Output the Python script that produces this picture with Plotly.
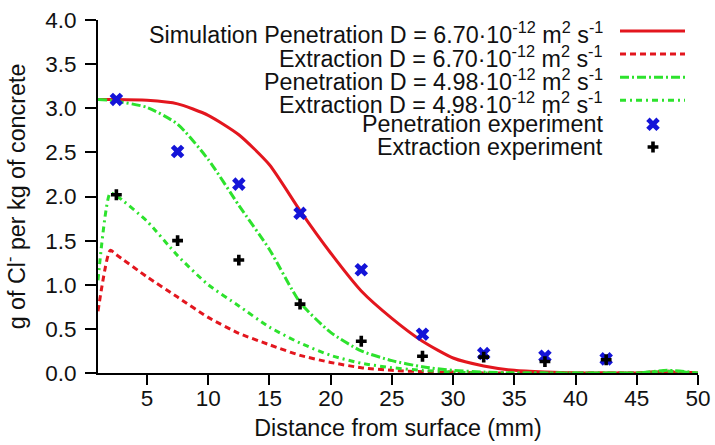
import plotly.graph_objects as go

# ---- data ----
x_sim = [1, 2, 2.5, 5, 7.5, 10, 12.5, 15, 17.5, 20, 22.5, 25, 27.5, 30, 32.5, 35, 37.5, 40, 42.5, 45, 47.5, 50]
pen_670 = [3.10, 3.10, 3.10, 3.09, 3.05, 2.92, 2.70, 2.36, 1.84, 1.36, 0.93, 0.62, 0.36, 0.17, 0.08, 0.03, 0.01, 0.0, 0.0, 0.0, 0.01, 0.0]
ext_670 = [0.70, 1.39, 1.34, 1.09, 0.86, 0.63, 0.45, 0.32, 0.20, 0.12, 0.06, 0.03, 0.015, 0.01, 0.0, 0.0, 0.0, 0.0, 0.0, 0.0, 0.02, 0.0]
pen_498 = [3.10, 3.09, 3.08, 3.01, 2.82, 2.42, 1.90, 1.40, 0.80, 0.46, 0.25, 0.14, 0.07, 0.03, 0.01, 0.0, 0.0, 0.0, 0.0, 0.0, 0.03, 0.0]
ext_498 = [1.05, 2.04, 2.01, 1.72, 1.33, 1.00, 0.76, 0.52, 0.34, 0.20, 0.11, 0.06, 0.03, 0.01, 0.0, 0.0, 0.0, 0.0, 0.0, 0.0, 0.02, 0.0]

x_exp = [2.5, 7.5, 12.5, 17.5, 22.5, 27.5, 32.5, 37.5, 42.5]
pen_exp = [3.10, 2.51, 2.14, 1.81, 1.17, 0.44, 0.22, 0.19, 0.16]
ext_exp = [2.02, 1.50, 1.28, 0.78, 0.36, 0.19, 0.18, 0.13, 0.15]

x_ticks = [5, 10, 15, 20, 25, 30, 35, 40, 45, 50]
y_ticks = [0.0, 0.5, 1.0, 1.5, 2.0, 2.5, 3.0, 3.5, 4.0]

legend_labels = [
    "Simulation Penetration D = 6.70·10<sup>-12</sup> m<sup>2</sup> s<sup>-1</sup>",
    "Extraction D = 6.70·10<sup>-12</sup> m<sup>2</sup> s<sup>-1</sup>",
    "Penetration D = 4.98·10<sup>-12</sup> m<sup>2</sup> s<sup>-1</sup>",
    "Extraction D = 4.98·10<sup>-12</sup> m<sup>2</sup> s<sup>-1</sup>",
    "Penetration experiment",
    "Extraction experiment",
]

RED = "#e3161e"
GREEN = "#2de22d"
BLUE = "#1414d8"
FONT = "Liberation Sans, Arial, sans-serif"
FS = 23.3
TFS = 22.5

W, H = 715, 445
ml, mr, mt, mb = 98, 17, 20, 72
pw, ph = W - ml - mr, H - mt - mb

styles = [
    dict(color=RED, width=3, dash="solid"),
    dict(color=RED, width=3, dash="6px,4px"),
    dict(color=GREEN, width=3, dash="9px,3px,2px,3px"),
    dict(color=GREEN, width=3, dash="6px,4px,2px,4px"),
]

fig = go.Figure()
for ys, st in zip([pen_670, ext_670, pen_498, ext_498], styles):
    fig.add_trace(go.Scatter(x=x_sim, y=ys, mode="lines", line=dict(shape="spline", smoothing=0.6, **st),
                             showlegend=False, hoverinfo="skip", cliponaxis=False))

fig.add_trace(go.Scatter(x=x_exp, y=pen_exp, mode="markers",
                         marker=dict(symbol="x", size=12, color=BLUE, line=dict(width=0)),
                         showlegend=False))
fig.add_trace(go.Scatter(x=x_exp, y=ext_exp, mode="markers",
                         marker=dict(symbol="cross", size=9, color="black", line=dict(width=0)),
                         showlegend=False))

# ---- custom legend (symbols on the right, text right-aligned) ----
row_px = [31, 54, 77.3, 100.3, 124.3, 147]
def py(p):
    return (H - mb - p) / ph
def px(p):
    return (p - ml) / pw

x0, x1 = px(620), px(685)
xm = px(653)
for i, st in enumerate(styles):
    fig.add_trace(go.Scatter(x=[x0, x1], y=[py(row_px[i])] * 2, mode="lines", line=st,
                             xaxis="x2", yaxis="y2", showlegend=False, hoverinfo="skip"))
fig.add_trace(go.Scatter(x=[xm], y=[py(row_px[4])], mode="markers", xaxis="x2", yaxis="y2",
                         marker=dict(symbol="x", size=12, color=BLUE, line=dict(width=0)),
                         showlegend=False, hoverinfo="skip"))
fig.add_trace(go.Scatter(x=[xm], y=[py(row_px[5])], mode="markers", xaxis="x2", yaxis="y2",
                         marker=dict(symbol="cross", size=9, color="black", line=dict(width=0)),
                         showlegend=False, hoverinfo="skip"))

text_dy = [2.5, 2.5, 2.5, 2.5, 0, 0]
for i, lab in enumerate(legend_labels):
    fig.add_annotation(x=px(605), y=py(row_px[i] + text_dy[i]), xref="paper", yref="paper",
                       text=lab, showarrow=False, xanchor="right", yanchor="middle",
                       font=dict(size=FS, color="#111111", family=FONT))

axis_common = dict(showline=True, linecolor="black", linewidth=2, ticks="outside",
                   tickwidth=2, tickcolor="black", showgrid=False, zeroline=False, automargin=False,
                   tickfont=dict(size=TFS, color="#111111", family=FONT))

fig.update_layout(
    width=W, height=H,
    margin=dict(l=ml, r=mr, t=mt, b=mb, autoexpand=False),
    paper_bgcolor="white", plot_bgcolor="white",
    font=dict(family=FONT, color="#111111"),
    xaxis=dict(range=[1, 50], tickvals=x_ticks, ticklen=10, ticklabelstandoff=-6, **axis_common,
               title=dict(text="Distance from surface (mm)", font=dict(size=FS, family=FONT), standoff=10)),
    yaxis=dict(range=[0, 4.0], tickvals=y_ticks, tickformat=".1f", ticklen=11, ticklabelstandoff=4,
               **axis_common,
               title=dict(text="g of Cl<sup>-</sup> per kg of concrete", font=dict(size=FS, family=FONT), standoff=16)),
    xaxis2=dict(range=[0, 1], overlaying="x", visible=False),
    yaxis2=dict(range=[0, 1], overlaying="y", visible=False),
)

fig.write_html("out.html", config={"displayModeBar": False},
               post_script="document.body.style.margin='0px';document.body.style.padding='0px';")
